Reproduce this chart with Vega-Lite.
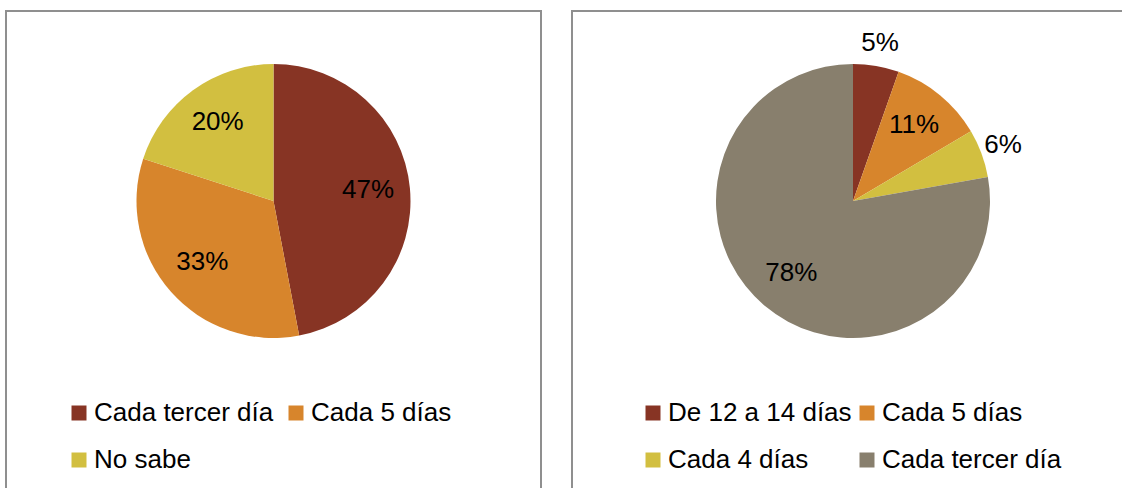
{
  "$schema": "https://vega.github.io/schema/vega-lite/v6.json",
  "padding": {"left": 5, "top": 10, "right": 0, "bottom": 0},
  "background": "white",
  "config": {
    "view": {"stroke": null},
    "font": "Liberation Sans",
    "legend": {
      "orient": "none",
      "direction": "horizontal",
      "title": null,
      "columns": 2,
      "symbolType": "square",
      "symbolSize": 225,
      "symbolStrokeWidth": 0,
      "labelFontSize": 26,
      "labelFont": "Liberation Sans",
      "labelColor": "#000000",
      "labelLimit": 0,
      "labelOffset": 2,
      "rowPadding": 21,
      "padding": 0,
      "legendY": 389
    }
  },
  "datasets": {
    "izquierda": [
      {"categoria": "Cada tercer día", "porcentaje": 47, "etiqueta": "47%", "orden": 1, "pos": "dentro"},
      {"categoria": "Cada 5 días", "porcentaje": 33, "etiqueta": "33%", "orden": 2, "pos": "dentro"},
      {"categoria": "No sabe", "porcentaje": 20, "etiqueta": "20%", "orden": 3, "pos": "dentro"}
    ],
    "derecha": [
      {"categoria": "De 12 a 14 días", "porcentaje": 5.4, "etiqueta": "5%", "orden": 1, "pos": "fuera"},
      {"categoria": "Cada 5 días", "porcentaje": 11.1, "etiqueta": "11%", "orden": 2, "pos": "dentro"},
      {"categoria": "Cada 4 días", "porcentaje": 5.7, "etiqueta": "6%", "orden": 3, "pos": "fuera"},
      {"categoria": "Cada tercer día", "porcentaje": 77.8, "etiqueta": "78%", "orden": 4, "pos": "dentro"}
    ],
    "marco": [{"marco": 1}]
  },
  "spacing": 29,
  "resolve": {"scale": {"color": "independent", "theta": "independent"}, "legend": {"color": "independent"}},
  "hconcat": [
    {
      "width": 535,
      "height": 490,
      "layer": [
        {
          "data": {"name": "marco"},
          "mark": {"type": "rect", "fill": null, "stroke": "#8f8f8f", "strokeWidth": 2},
          "encoding": {}
        },
        {
          "data": {"name": "izquierda"},
          "encoding": {
            "theta": {"field": "porcentaje", "type": "quantitative", "stack": true},
            "order": {"field": "orden", "type": "quantitative"}
          },
          "layer": [
            {
              "mark": {"type": "arc", "outerRadius": 137, "y": 190},
              "encoding": {
                "color": {
                  "field": "categoria",
                  "type": "nominal",
                  "sort": ["Cada tercer día", "Cada 5 días", "No sabe"],
                  "scale": {"domain": ["Cada tercer día", "Cada 5 días", "No sabe"], "range": ["#873424", "#D7852C", "#D2BF40"]},
                  "legend": {"legendX": 60, "columnPadding": 9}
                }
              }
            },
            {
              "mark": {"type": "text", "radius": 95, "y": 188, "fontSize": 26, "font": "Liberation Sans", "color": "#000000"},
              "encoding": {
                "text": {"field": "etiqueta", "type": "nominal"}
              }
            }
          ]
        }
      ]
    },
    {
      "width": 562,
      "height": 490,
      "layer": [
        {
          "data": {"name": "marco"},
          "mark": {"type": "rect", "fill": null, "stroke": "#8f8f8f", "strokeWidth": 2},
          "encoding": {}
        },
        {
          "data": {"name": "derecha"},
          "encoding": {
            "theta": {"field": "porcentaje", "type": "quantitative", "stack": true},
            "order": {"field": "orden", "type": "quantitative"}
          },
          "layer": [
            {
              "mark": {"type": "arc", "outerRadius": 137, "y": 190},
              "encoding": {
                "color": {
                  "field": "categoria",
                  "type": "nominal",
                  "sort": ["De 12 a 14 días", "Cada 5 días", "Cada 4 días", "Cada tercer día"],
                  "scale": {"domain": ["De 12 a 14 días", "Cada 5 días", "Cada 4 días", "Cada tercer día"], "range": ["#873424", "#D7852C", "#D2BF40", "#887F6D"]},
                  "legend": {"legendX": 68, "columnPadding": 2}
                }
              }
            },
            {
              "mark": {"type": "text", "radius": 96, "y": 188, "fontSize": 26, "font": "Liberation Sans", "color": "#000000"},
              "encoding": {
                "text": {"condition": {"test": "datum.pos === 'dentro'", "field": "etiqueta"}, "value": ""}
              }
            },
            {
              "mark": {"type": "text", "radius": 160, "y": 190, "fontSize": 26, "font": "Liberation Sans", "color": "#000000"},
              "encoding": {
                "text": {"condition": {"test": "datum.pos === 'fuera'", "field": "etiqueta"}, "value": ""}
              }
            }
          ]
        }
      ]
    }
  ]
}
